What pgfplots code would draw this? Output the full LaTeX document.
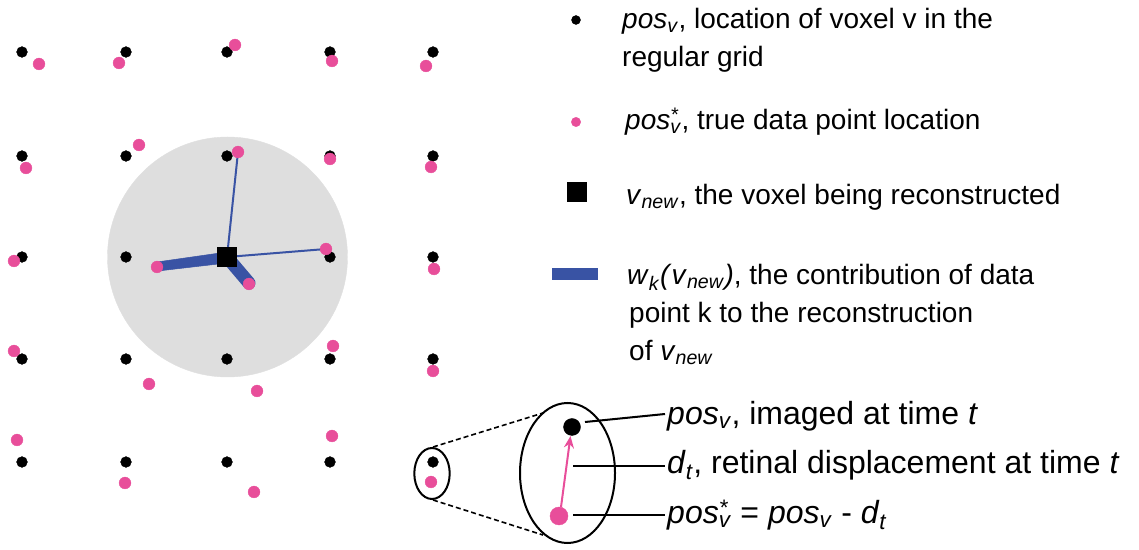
\documentclass[border=0pt]{standalone}
\usepackage{fontspec}
\setmainfont{Liberation Sans}
\usepackage{pgfplots}
\pgfplotsset{compat=1.18}
\usetikzlibrary{arrows.meta}
\definecolor{pinkpt}{HTML}{E84E9A}
\definecolor{bluew}{HTML}{3953A4}
\definecolor{ltgray}{HTML}{DEDEDE}
\newcommand{\sub}[1]{\textsubscript{\textit{#1}}}
\newcommand{\posv}{\textit{pos}\sub{v}}
\newcommand{\posstar}{\textit{pos}\rlap{\textsuperscript{\textit{*}}}\sub{v}}
\newcommand{\vnew}{\textit{v}\sub{new}}
\begin{document}
\begin{tikzpicture}
\begin{axis}[
  scale only axis, width=1139bp, height=550bp,
  xmin=0, xmax=1139, ymin=0, ymax=550, y dir=reverse,
  hide axis, clip=false, clip marker paths=true,
]
\path (axis cs:0,0) rectangle (axis cs:1139,550);
% neighbourhood
\addplot[ltgray, only marks, mark=*, mark size=120bp, mark options={draw=none, fill=ltgray}] coordinates {(227.5,257)};
% regular grid
\addplot[black, only marks, mark=*, mark size=5.4bp, mark options={draw=none, fill=black}] table {
x y
22 52
126 52
227 52
330 52
433 52
22 156
126 156
227 156
330 156
433 156
22 257
126 257
330 257
433 257
22 359
126 359
227 359
330 359
433 359
22 462
126 462
227 462
330 462
433 462
};
% contributions
\addplot[bluew, line width=2bp] coordinates {(227,257) (238,152)};
\addplot[bluew, line width=2bp] coordinates {(227,257) (326,249)};
\addplot[bluew, fill=bluew, line width=0.5bp] coordinates {(227,252) (227,263) (158,271) (157,262)} -- cycle;
\addplot[bluew, line width=13bp, line cap=round] coordinates {(232,263) (249,283)};
% voxel being reconstructed
\addplot[black, only marks, mark=square*, mark size=9.5bp] coordinates {(227,257)};
% true data points
\addplot[pinkpt, only marks, mark=*, mark size=5.9bp, mark options={draw=none, fill=pinkpt}] table {
x y
39 64
119 63
235 45
332 61
426 66
26 168
139 145
238 152
330 159
431 167
14 261
157 267
249 284
326 249
434 269
14 351
149 384
257 391
333 346
433 371
17 440
125 483
254 492
332 436
431 482
};
% legend symbols
\addplot[black, only marks, mark=*, mark size=4.5bp, mark options={draw=none, fill=black}] coordinates {(576,20)};
\addplot[pinkpt, only marks, mark=*, mark size=4.7bp, mark options={draw=none, fill=pinkpt}] coordinates {(576,122)};
\addplot[black, only marks, mark=square*, mark size=9.5bp] coordinates {(577,192)};
\addplot[bluew, line width=12bp] coordinates {(552,274) (598,274)};
% legend text
\begin{scope}[every node/.style={anchor=base west, inner sep=0pt, font=\fontsize{28bp}{34bp}\selectfont}]
\node at (axis cs:622,29) {\posv, location of voxel v in the};
\node at (axis cs:622,67) {regular grid};
\node at (axis cs:625,130) {\posstar, true data point location};
\node at (axis cs:626,205) {\vnew, the voxel being reconstructed};
\node at (axis cs:627,285) {\textit{w}\sub{k}\textit{(}\vnew\textit{)}, the contribution of data};
\node at (axis cs:629,323) {point k to the reconstruction};
\node at (axis cs:629,361) {of \vnew};
\end{scope}
% zoom inset
\draw[line width=2bp] (axis cs:432,473.5) ellipse [x radius=17.7bp, y radius=25.5bp];
\draw[line width=2bp] (axis cs:567.5,473) ellipse [x radius=47.5bp, y radius=70bp];
\addplot[black, line width=1.6bp, dash pattern=on 5bp off 3bp] coordinates {(433,447) (543,413)};
\addplot[black, line width=1.6bp, dash pattern=on 5bp off 3bp] coordinates {(433,500) (543,535)};
\addplot[black, line width=2bp] coordinates {(585,422) (665,414)};
\addplot[black, line width=2bp] coordinates {(573,466) (665,466)};
\addplot[black, line width=2bp] coordinates {(573,515) (665,515)};
\addplot[pinkpt, line width=2bp, -{Stealth[length=12bp,width=10bp]}] coordinates {(561,507) (570.5,436)};
\addplot[black, only marks, mark=*, mark size=8.5bp, mark options={draw=none, fill=black}] coordinates {(572,427)};
\addplot[pinkpt, only marks, mark=*, mark size=9bp, mark options={draw=none, fill=pinkpt}] coordinates {(559,516)};
\begin{scope}[every node/.style={anchor=base west, inner sep=0pt, font=\fontsize{32bp}{38bp}\selectfont}]
\node at (axis cs:667,425) {\posv, imaged at time \textit{t}};
\node at (axis cs:667,474) {\textit{d}\sub{t}, retinal displacement at time \textit{t}};
\node at (axis cs:667,524) {\posstar\ = \posv\ -\ \textit{d}\sub{t}};
\end{scope}
\end{axis}
\end{tikzpicture}
\end{document}
